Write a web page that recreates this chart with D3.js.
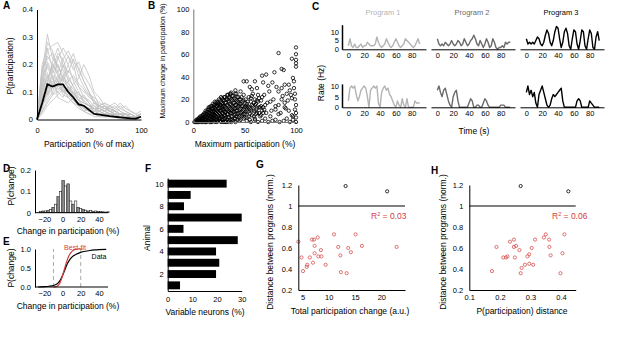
<!DOCTYPE html>
<html>
<head>
<meta charset="utf-8">
<script src="https://cdn.jsdelivr.net/npm/d3@7"></script>
<style>
  body { margin: 0; background: #fff; }
  svg { display: block; font-family: "Liberation Sans", Arial, sans-serif; }
</style>
</head>
<body>
<div id="fig"></div>
<script>
// Panel A: participation distributions (x = 0,5,...,100 % of max)
const partBins = [0,5,10,15,20,25,30,35,40,45,50,55,60,65,70,75,80,85,90,95,100];
const partAnimals = [
  [0,0.17,0.31,0.22,0.2,0.15,0.12,0.08,0.06,0.05,0.04,0.02,0.03,0.05,0.03,0.02,0.01,0.02,0.01,0.01,0.02],
  [0,0.12,0.25,0.27,0.28,0.24,0.2,0.14,0.1,0.06,0.05,0.04,0.02,0.03,0.04,0.03,0.02,0.01,0.02,0.01,0.01],
  [0,0.05,0.1,0.18,0.22,0.26,0.23,0.2,0.12,0.08,0.06,0.03,0.05,0.06,0.04,0.05,0.03,0.02,0.01,0.01,0.02],
  [0,0.2,0.26,0.18,0.14,0.1,0.09,0.07,0.06,0.04,0.03,0.03,0.02,0.02,0.01,0.01,0.01,0,0.01,0,0.01],
  [0,0.08,0.14,0.2,0.17,0.22,0.25,0.21,0.19,0.14,0.1,0.06,0.04,0.03,0.05,0.03,0.02,0.02,0.01,0.01,0.02],
  [0,0.15,0.12,0.11,0.13,0.09,0.08,0.1,0.07,0.09,0.06,0.04,0.03,0.02,0.03,0.04,0.03,0.02,0.01,0.01,0.01],
  [0,0.03,0.07,0.1,0.15,0.19,0.23,0.18,0.21,0.16,0.13,0.09,0.05,0.04,0.03,0.02,0.04,0.05,0.03,0.02,0.03],
  [0,0.1,0.2,0.16,0.08,0.07,0.06,0.08,0.05,0.03,0.04,0.06,0.05,0.06,0.05,0.04,0.06,0.04,0.03,0.02,0.01],
  [0,0.06,0.09,0.13,0.1,0.12,0.14,0.16,0.13,0.11,0.08,0.07,0.05,0.04,0.04,0.03,0.02,0.02,0.02,0.01,0.02],
  [0,0.18,0.22,0.24,0.19,0.17,0.11,0.07,0.05,0.03,0.02,0.01,0.01,0.01,0.02,0.01,0,0.01,0,0,0.01],
  [0,0.02,0.05,0.07,0.09,0.11,0.1,0.13,0.15,0.2,0.16,0.1,0.08,0.05,0.03,0.02,0.01,0.01,0.02,0.01,0.02],
  [0,0.13,0.09,0.14,0.12,0.16,0.13,0.11,0.07,0.06,0.05,0.05,0.04,0.05,0.04,0.03,0.05,0.03,0.02,0.01,0.02],
  [0,0.09,0.17,0.12,0.23,0.18,0.15,0.12,0.09,0.08,0.07,0.05,0.03,0.02,0.02,0.02,0.01,0.01,0.01,0,0.01],
  [0,0.04,0.11,0.15,0.13,0.2,0.17,0.22,0.16,0.12,0.09,0.08,0.06,0.05,0.03,0.02,0.02,0.01,0.01,0.01,0.02],
  [0,0.11,0.16,0.09,0.1,0.08,0.12,0.09,0.1,0.07,0.05,0.03,0.04,0.03,0.02,0.03,0.02,0.01,0.01,0.01,0.01],
  [0,0.07,0.13,0.21,0.26,0.2,0.14,0.09,0.07,0.04,0.03,0.02,0.02,0.01,0.01,0.02,0.01,0.01,0,0.01,0.02],
  [0,0.14,0.28,0.25,0.17,0.13,0.1,0.07,0.05,0.04,0.03,0.02,0.02,0.03,0.02,0.01,0.01,0.01,0.01,0,0.01],
  [0,0.1,0.15,0.19,0.24,0.22,0.16,0.12,0.08,0.07,0.05,0.04,0.04,0.03,0.02,0.02,0.02,0.01,0.01,0.01,0.01],
  [0,0.05,0.08,0.12,0.16,0.14,0.18,0.15,0.12,0.1,0.09,0.06,0.05,0.04,0.05,0.06,0.04,0.03,0.02,0.01,0.02],
  [0,0.16,0.19,0.15,0.11,0.12,0.08,0.06,0.05,0.05,0.04,0.03,0.03,0.02,0.02,0.01,0.02,0.01,0.01,0.01,0.01],
  [0,0.12,0.21,0.17,0.2,0.14,0.12,0.1,0.07,0.05,0.04,0.04,0.03,0.04,0.03,0.02,0.01,0.01,0.01,0.01,0.02],
  [0,0.03,0.06,0.09,0.12,0.15,0.2,0.24,0.18,0.14,0.1,0.07,0.04,0.03,0.02,0.02,0.01,0.01,0.01,0.01,0.01],
  [0,0.08,0.12,0.16,0.14,0.1,0.11,0.09,0.07,0.06,0.05,0.04,0.05,0.04,0.03,0.03,0.02,0.02,0.01,0.01,0.02],
  [0,0.19,0.23,0.2,0.16,0.11,0.08,0.06,0.04,0.03,0.02,0.02,0.01,0.01,0.01,0.01,0.01,0,0,0,0.01]
];
const partMean = [0,0.06,0.128,0.12,0.128,0.128,0.1,0.08,0.055,0.05,0.035,0.02,0.018,0.015,0.012,0.01,0.008,0.006,0.004,0.003,0.01];

// Panel B: max participation vs max change (%)
const scatterB = [
  [1,0],[2,1],[3,0],[3,2],[4,1],[5,3],[5,0],[6,2],[6,4],[7,1],[7,5],[8,3],[8,0],[9,6],[9,2],[10,4],[10,7],[10,1],
  [11,3],[11,8],[12,5],[12,0],[12,10],[13,2],[13,7],[14,4],[14,11],[14,9],[15,1],[15,6],[15,13],[16,3],[16,8],[16,11],
  [17,0],[17,5],[17,14],[18,2],[18,9],[18,12],[19,6],[19,16],[19,4],[20,1],[20,10],[20,13],[20,7],[21,3],[21,15],[21,18],
  [22,5],[22,11],[22,8],[23,0],[23,14],[23,2],[24,17],[24,6],[24,9],[25,12],[25,20],[25,3],[26,15],[26,7],[26,1],
  [27,10],[27,18],[27,4],[28,13],[28,21],[28,8],[29,16],[29,2],[29,11],[30,6],[30,19],[30,14],[31,9],[31,22],[31,3],
  [32,12],[32,17],[32,0],[33,7],[33,20],[33,15],[34,10],[34,4],[34,24],[35,13],[35,18],[35,1],[36,8],[36,21],[36,16],
  [37,5],[37,11],[37,26],[38,14],[38,19],[38,2],[39,9],[39,23],[40,12],[40,6],[40,17],[41,3],[41,20],[41,15],[42,10],
  [42,25],[43,7],[43,13],[43,18],[44,4],[44,22],[45,11],[45,16],[45,1],[46,8],[46,20],[47,14],[47,5],[48,18],[48,10],
  [49,3],[49,24],[50,13],[50,7],[51,20],[52,4],[52,16],[53,9],[54,22],[55,12],[55,2],[56,18],[57,6],[58,14],[58,25],
  [59,10],[60,3],[60,20],[61,16],[62,8],[63,24],[64,13],[65,5],[66,19],[67,10],
  [2,0],[4,2],[4,0],[5,1],[6,0],[6,3],[7,3],[8,1],[8,5],[9,0],[9,4],[10,2],[10,6],[11,0],[11,5],[12,2],[12,7],[13,0],
  [13,4],[13,9],[14,1],[14,6],[15,3],[15,8],[15,11],[16,0],[16,5],[16,13],[17,2],[17,7],[17,10],[18,0],[18,4],[18,7],
  [18,14],[19,1],[19,9],[19,12],[20,3],[20,5],[20,15],[21,0],[21,6],[21,9],[21,12],[22,2],[22,14],[22,17],[23,4],[23,7],
  [23,10],[23,18],[24,1],[24,12],[24,15],[25,5],[25,8],[25,16],[26,3],[26,10],[26,13],[26,19],[27,0],[27,6],[27,15],
  [27,22],[28,2],[28,5],[28,11],[28,17],[29,0],[29,7],[29,14],[29,20],[30,3],[30,10],[30,22],[31,0],[31,6],[31,13],
  [31,17],[32,4],[32,9],[32,20],[33,2],[33,11],[33,24],[34,0],[34,7],[34,14],[34,19],[35,4],[35,9],[35,22],[36,2],
  [36,12],[36,25],[37,0],[37,8],[37,15],[37,20],[38,5],[38,10],[38,23],[39,1],[39,13],[39,17],[40,3],[40,9],[40,21],
  [41,0],[41,7],[41,12],[41,25],[42,5],[42,15],[42,19],[43,2],[43,10],[43,22],[44,8],[44,14],[44,17],[45,5],[45,20],
  [46,2],[46,12],[46,16],[47,9],[47,22],[48,6],[48,14],[49,11],[49,19],[50,4],[51,14],[52,10],[53,18],[54,13],[55,7],
  [56,21],[57,15],[59,5],[61,11],[62,19],[64,8],[66,14],[67,22],[69,11],
  [50,17],[51,9],[53,14],[54,5],[56,11],[57,23],[59,17],[61,7],[62,12],[63,18],[64,21],[66,6],[68,13],[69,24],[71,8],
  [72,17],[74,27],[75,5],[78,20],[80,11],[81,31],[83,15],[85,8],[87,23],[90,12],[92,19],[94,28],[96,6],[98,30],[99,25],
  [52,1],[56,0],[60,2],[63,0],[67,1],[70,3],[73,0],[77,1],[80,2],[84,0],[88,1],[91,3],[94,0],[97,2],[100,0],[100,4],[100,8],
  [83,61],[100,66],[100,60],[96,56],[100,55],[100,52],[100,49],[86,47],[88,46],[79,44],[67,41],[71,42],[60,36],[52,36],
  [49,36],[89,33],[93,33],[97,39],[98,36],[77,35],[73,32],[68,35],[62,30],[55,31],[57,29],[46,27],[41,28],[36,25],
  [83,27],[86,30],[91,25],[95,24],[96,21],[99,20],[100,15],[99,11],[86,20],[89,17],[89,13],[80,14],[75,18],[70,15],
  [65,13],[60,15],[57,10],[52,13],[49,7],[68,8],[76,10],[83,7],[93,10],[97,5]
];

// Panel C: firing rate (Hz) sampled every 2 s, 3 programs x 2 neurons
const rateTop = [
  [2,6,2,1,3,1,1,2,3,1,2,2,4,3,2,2,2,3,7,4,2,1,2,3,6,4,2,1,2,4,6,4,2,1,2,3,6,5,4,3,2,1,2,4,6,3],
  [6,3,2,3,2,4,3,2,3,5,3,2,3,5,4,2,3,6,4,2,3,5,6,8,6,3,2,5,3,1,3,6,4,1,2,6,4,1,0,1,1,2,1,4,3,4,4],
  [6,3,4,3,4,3,5,7,6,3,2,4,8,11,9,4,2,5,10,13,12,6,1,4,10,12,9,2,0,6,11,10,3,0,5,11,10,2,0,6,11,9,1,0,7,10,5]
];
const rateBottom = [
  [3,9,10,9,10,6,3,5,8,9,10,9,5,0,8,9,10,9,10,2,0,7,9,10,8,9,6,5,3,1,0,3,1,0,4,1,0,4,0,0,0,0,3,2,2,2],
  [8,10,7,5,8,9,6,3,1,0,5,7,8,3,0,0,0,0,0,0,2,4,3,0,0,1,1,0,0,2,4,3,1,0,0,0,0,0,0,0,1,1,1,0,0,0,0],
  [7,10,6,8,5,7,2,0,6,8,10,7,4,1,0,1,4,6,5,6,7,8,9,3,0,0,0,0,0,0,0,0,3,4,3,0,0,0,0,0,3,2,1,0,0,0,0]
];
const programNames = ["Program 1", "Program 2", "Program 3"];
const programColors = ["#b4b4b4", "#6a6a6a", "#000000"];

// Panel D: histogram of change in participation (%)
const binLeftD = [-25.5,-22.75,-20,-17.25,-14.5,-11.75,-9,-6.25,-3.5,-0.75,2,4.75,7.5,10.25,13,15.75,18.5,21.25,24,26.75,29.5,32.25,35,37.75,40.5,43.25,46,48.75];
const probD = [0.005,0.008,0.008,0.01,0.015,0.025,0.04,0.075,0.1,0.15,0.125,0.135,0.055,0.04,0.055,0.025,0.02,0.015,0.012,0.008,0.01,0.005,0.008,0.005,0.006,0.004,0.003,0.004];

// Panel E: cumulative distributions
const cdfDataX = [-27,-20,-15,-10,-5,-2,0,2,5,8,10,15,20,25,30,35,40,48];
const cdfDataY = [0,0.01,0.02,0.04,0.1,0.2,0.3,0.42,0.6,0.72,0.78,0.86,0.91,0.94,0.96,0.975,0.985,0.99];
const cdfFitX = [-10,-7,-5,-3,-1,1,3,5,7,9,11,13,15,18,22];
const cdfFitY = [0,0.01,0.04,0.1,0.22,0.38,0.55,0.7,0.82,0.9,0.95,0.98,0.99,1,1];
const boundsE = [-10, 20];

// Panel F: variable neurons per animal
const animals = [1,2,3,4,5,6,7,8,9,10];
const variablePct = [5,19.6,20.9,19.6,28.4,6.4,30,6.6,9.3,23.9];

// Panel G / H: distance between programs
const distG = [0.66,0.51,0.38,0.42,0.44,0.51,0.68,0.68,0.62,0.55,0.46,0.70,0.52,0.58,0.52,0.44,0.73,0.61,0.53,0.37,0.36,0.60,0.56,0.73,0.62,0.61];
const totalChangeG = [4.2,4.8,5.1,5.8,5.9,6.4,6.8,7.2,7.3,7.3,7.0,7.9,8.0,8.5,8.6,9.4,11.0,11.8,12.2,12.3,13.4,13.7,14.2,15.1,16.3,22.9];
const outlierG = [[13.2,1.19],[21.1,1.14]];
const distH = [0.38,0.61,0.51,0.51,0.52,0.66,0.68,0.61,0.62,0.51,0.58,0.36,0.41,0.44,0.52,0.45,0.54,0.60,0.44,0.68,0.70,0.73,0.68,0.61,0.53,0.36,0.55,0.73];
const pDistH = [0.174,0.189,0.211,0.22,0.225,0.233,0.246,0.246,0.253,0.249,0.264,0.268,0.271,0.282,0.29,0.296,0.296,0.304,0.309,0.315,0.344,0.35,0.361,0.362,0.366,0.398,0.405,0.411];
const outlierH = [[0.268,1.19],[0.424,1.14]];

const RED = "#d23c3c";
const svg = d3.select("#fig").append("svg").attr("width", 617).attr("height", 338);

function styleAxis(g, fs) {
  g.attr("font-family", null).attr("font-size", fs || 7.5);
  g.select(".domain").attr("stroke", "#000");
  g.selectAll(".tick text").attr("fill", "#000");
  return g;
}
function text(t, x, y, opts) {
  opts = opts || {};
  return svg.append("text").attr("x", x).attr("y", y)
    .attr("text-anchor", opts.anchor || "middle")
    .attr("font-size", opts.size || 8.5)
    .attr("font-weight", opts.bold ? "bold" : null)
    .attr("fill", opts.fill || "#000")
    .text(t);
}
function vtext(t, x, y, size) {
  return svg.append("text").attr("transform", `translate(${x},${y}) rotate(-90)`)
    .attr("text-anchor", "middle").attr("dy", "0.35em")
    .attr("font-size", size || 8.5).text(t);
}
function bottomAxis(scale, y, ticks, pad, fmt) {
  const ax = d3.axisBottom(scale).tickValues(ticks).tickSize(0).tickPadding(pad);
  if (fmt) ax.tickFormat(fmt);
  return styleAxis(svg.append("g").attr("transform", `translate(0,${y})`).call(ax));
}
function leftAxis(scale, x, ticks, pad, fmt) {
  const ax = d3.axisLeft(scale).tickValues(ticks).tickSize(0).tickPadding(pad);
  if (fmt) ax.tickFormat(fmt);
  return styleAxis(svg.append("g").attr("transform", `translate(${x},0)`).call(ax));
}

// ---- A ----
const xA = d3.scaleLinear([0, 100], [37, 141]);
const yA = d3.scaleLinear([0, 0.4], [119.5, 9.5]);
const lineA = d3.line().x((d, i) => xA(partBins[i])).y(d => yA(d));
svg.append("g").selectAll("path").data(partAnimals).join("path")
  .attr("d", lineA).attr("fill", "none").attr("stroke", "#c2c2c2").attr("stroke-width", 0.8);
svg.append("path").attr("d", lineA(partMean)).attr("fill", "none").attr("stroke", "#000").attr("stroke-width", 1.8);
leftAxis(yA, 37, [0, 0.1, 0.2, 0.3, 0.4], 4, d => d === 0 ? "0" : d3.format(".1f")(d));
bottomAxis(xA, 119.5, [0, 50, 100], 8);
text("Participation (% of max)", 89, 147);
vtext("P(participation)", 10, 66);
text("A", 3, 9, {anchor: "start", size: 10, bold: true});

// ---- B ----
const xB = d3.scaleLinear([0, 100], [193.3, 296]);
const yB = d3.scaleLinear([0, 100], [122, 9]);
svg.append("g").selectAll("circle").data(scatterB).join("circle")
  .attr("cx", d => xB(d[0])).attr("cy", d => yB(d[1])).attr("r", 1.7)
  .attr("fill", "none").attr("stroke", "#000").attr("stroke-width", 0.8);
leftAxis(yB, 193.3, [0, 20, 40, 60, 80, 100], 4).select(".domain").attr("stroke", "#777");
bottomAxis(xB, 122, [0, 50, 100], 6).select(".domain").attr("stroke", "#777");
text("Maximum participation (%)", 245, 147);
vtext("Maximum change in participation (%)", 163, 61, 7);
text("B", 148, 9, {anchor: "start", size: 10, bold: true});

// ---- C ----
const tC = d3.range(0, 94, 2);
const yCtop = d3.scaleLinear([0, 14], [49.3, 24.7]);
const yCbot = d3.scaleLinear([0, 11], [107.3, 83.9]);
programNames.forEach((name, i) => {
  const x = d3.scaleLinear([-8, 98], [342 + 89 * i, 426 + 89 * i]);
  [[rateTop[i], yCtop, 49.3], [rateBottom[i], yCbot, 107.3]].forEach(([vals, y, y0]) => {
    svg.append("path")
      .attr("d", d3.line().x((d, k) => x(tC[k])).y(d => y(d))(vals))
      .attr("fill", "none").attr("stroke", programColors[i])
      .attr("stroke-width", 1.4).attr("stroke-linejoin", "round");
    bottomAxis(x, y0, [0, 20, 40, 60, 80], 3);
  });
  text(name, 383 + 89 * i, 15, {size: 7.5, fill: programColors[i]});
});
leftAxis(yCtop, 342, [0, 5, 10], 3).select(".domain").attr("stroke-width", 1.5);
leftAxis(yCbot, 342, [0, 5, 10], 3).select(".domain").attr("stroke-width", 1.5);
vtext("Rate (Hz)", 321, 83);
text("Time (s)", 474, 134);
text("C", 312, 10, {anchor: "start", size: 10, bold: true});

// ---- D ----
const xD = d3.scaleLinear([-27, 50], [38, 108]);
const yD = d3.scaleLinear([0, 0.2], [212.7, 170]);
svg.append("g").selectAll("rect").data(probD).join("rect")
  .attr("x", (d, i) => xD(binLeftD[i]))
  .attr("width", xD(binLeftD[1]) - xD(binLeftD[0]))
  .attr("y", d => yD(d)).attr("height", d => yD(0) - yD(d))
  .attr("fill", (d, i) => i % 2 ? "#8c8c8c" : "#fff")
  .attr("stroke", "#000").attr("stroke-width", 0.5);
leftAxis(yD, 35, [0, 0.1, 0.2], 4, d => d === 0 ? "0" : d3.format(".1f")(d));
bottomAxis(xD, 212.7, [-20, 0, 20, 40], 4).select(".domain").attr("d", `M35,0H108`);
text("Change in participation (%)", 68, 234);
vtext("P(change)", 11, 186);
text("D", 3, 172, {anchor: "start", size: 10, bold: true});

// ---- E ----
const xE = d3.scaleLinear([-27, 50], [38, 108]);
const yE = d3.scaleLinear([0, 1], [287, 249]);
svg.append("g").selectAll("line").data(boundsE).join("line")
  .attr("x1", d => xE(d)).attr("x2", d => xE(d)).attr("y1", yE(0)).attr("y2", yE(1))
  .attr("stroke", "#aaa").attr("stroke-width", 1).attr("stroke-dasharray", "4,3");
svg.append("path").attr("d", d3.line().x((d, i) => xE(cdfDataX[i])).y(d => yE(d)).curve(d3.curveMonotoneX)(cdfDataY))
  .attr("fill", "none").attr("stroke", "#000").attr("stroke-width", 1.2);
svg.append("path").attr("d", d3.line().x((d, i) => xE(cdfFitX[i])).y(d => yE(d)).curve(d3.curveMonotoneX)(cdfFitY))
  .attr("fill", "none").attr("stroke", RED).attr("stroke-width", 1.2);
leftAxis(yE, 35, [0, 0.5, 1], 4);
bottomAxis(xE, 287, [-20, 0, 20, 40], 4).select(".domain").attr("d", `M35,0H108`);
text("Best-fit", 75, 250, {size: 7, fill: RED});
text("Data", 99, 259, {size: 7});
text("Change in participation (%)", 68, 309);
vtext("P(change)", 11, 268);
text("E", 3, 245, {anchor: "start", size: 10, bold: true});

// ---- F ----
const xF = d3.scaleLinear([0, 30], [167.7, 241.7]);
const yF = d3.scaleBand(animals, [291, 178]).paddingInner(0.3).paddingOuter(0.15);
svg.append("g").selectAll("rect").data(variablePct).join("rect")
  .attr("x", xF(0)).attr("y", (d, i) => yF(animals[i]))
  .attr("width", d => xF(d) - xF(0)).attr("height", yF.bandwidth()).attr("fill", "#000");
const yFlin = d3.scaleLinear([0.5, 10.5], [291, 178]);
leftAxis(yFlin, 167.7, [2, 4, 6, 8, 10], 4);
bottomAxis(xF, 291, [0, 10, 20, 30], 6);
text("Variable neurons (%)", 205, 315);
vtext("Animal", 147, 238);
text("F", 145, 172, {anchor: "start", size: 10, bold: true});

// ---- G / H ----
function distPanel(x, xs, ys, outliers, ticks, fmt, r2, r2x, xlab, xlabX, ylabX) {
  const y = d3.scaleLinear([0.2, 1.2], [290, 185]);
  svg.append("line").attr("x1", x.range()[0]).attr("x2", x.range()[1])
    .attr("y1", y(1)).attr("y2", y(1)).attr("stroke", "#000").attr("stroke-width", 1);
  svg.append("g").selectAll("circle").data(ys).join("circle")
    .attr("cx", (d, i) => x(xs[i])).attr("cy", d => y(d)).attr("r", 1.6)
    .attr("fill", "none").attr("stroke", RED).attr("stroke-width", 0.7);
  svg.append("g").selectAll("circle").data(outliers).join("circle")
    .attr("cx", d => x(d[0])).attr("cy", d => y(d[1])).attr("r", 1.6)
    .attr("fill", "none").attr("stroke", "#000").attr("stroke-width", 0.8);
  leftAxis(y, x.range()[0], [0.2, 0.4, 0.6, 0.8, 1, 1.2], 6, d => d === 1 ? "1" : d3.format(".1f")(d));
  bottomAxis(x, 290, ticks, 5, fmt);
  const t = svg.append("text").attr("x", r2x).attr("y", 219).attr("font-size", 8.5).attr("fill", RED);
  t.append("tspan").text("R");
  t.append("tspan").attr("dy", -3).attr("font-size", 5.5).text("2");
  t.append("tspan").attr("dy", 3).text(" = " + r2);
  text(xlab, xlabX, 314);
  vtext("Distance between programs (norm.)", ylabX, 242);
}
distPanel(d3.scaleLinear([4.2, 24.5], [298.3, 405]), totalChangeG, distG, outlierG,
  [5, 10, 15, 20], null, "0.03", 371, "Total participation change (a.u.)", 350, 270);
text("G", 256, 168, {anchor: "start", size: 10, bold: true});
distPanel(d3.scaleLinear([0.1, 0.448], [469.3, 575.7]), pDistH, distH, outlierH,
  [0.1, 0.2, 0.3, 0.4], d3.format(".1f"), "0.06", 552, "P(participation) distance", 522, 443);
text("H", 431, 174, {anchor: "start", size: 10, bold: true});
</script>
</body>
</html>
